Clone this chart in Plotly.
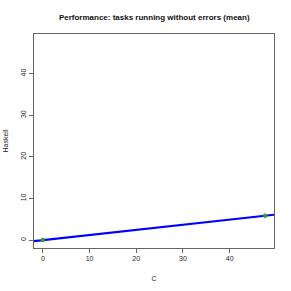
import numpy as np
import plotly.graph_objects as go

c_vals = [0.0, 47.6]
haskell_vals = [0.0, 5.85]
x_ticks = [0, 10, 20, 30, 40]
y_ticks = [0, 10, 20, 30, 40]

x_range = [-1.9, 49.5]
y_range = [-1.9, 49.5]

slope, intercept = np.polyfit(c_vals, haskell_vals, 1)
line_x = np.array(x_range)
line_y = slope * line_x + intercept

fig = go.Figure()
fig.add_trace(go.Scatter(x=line_x, y=line_y, mode="lines",
                         line=dict(color="#0000ff", width=2.2), hoverinfo="skip"))
fig.add_trace(go.Scatter(x=c_vals, y=haskell_vals, mode="markers",
                         marker=dict(color="#2e9e3e", size=4.5, symbol="circle")))

font = dict(family="Liberation Sans, Arial, sans-serif", size=7, color="#222222")
fig.update_layout(
    width=291, height=291,
    margin=dict(l=34, r=17, t=34, b=43, autoexpand=False),
    paper_bgcolor="white", plot_bgcolor="white",
    showlegend=False,
    font=font,
    title=dict(text="<b>Performance: tasks running without errors (mean)</b>",
               x=0.53, xanchor="center", y=1 - 17 / 291, yanchor="middle",
               font=dict(family="Liberation Sans, Arial, sans-serif", size=8, color="#111111")),
)
fig.update_xaxes(range=x_range, tickvals=x_ticks, showgrid=False, zeroline=False,
                 showline=True, mirror=True, linecolor="#666666", linewidth=1,
                 ticks="outside", ticklen=4, tickcolor="#666666", automargin=False,
                 title=dict(text="C", standoff=14, font=dict(size=7)))
fig.update_yaxes(range=y_range, tickvals=y_ticks, showgrid=False, zeroline=False,
                 showline=True, mirror=True, linecolor="#666666", linewidth=1,
                 ticks="outside", ticklen=4, tickcolor="#666666", tickangle=-90,
                 automargin=False,
                 title=dict(text="Haskell", standoff=10, font=dict(size=7)))
fig.write_html("out.html", post_script="document.body.style.margin='0px';",
               config={"displayModeBar": False})
